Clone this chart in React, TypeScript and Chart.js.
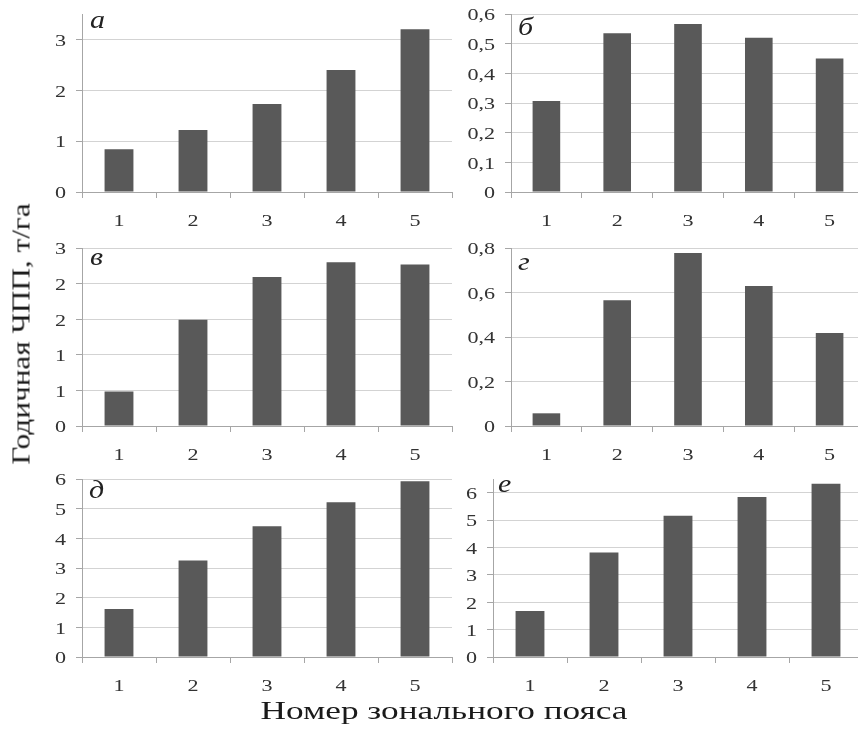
import React, { useEffect, useRef } from "react";
import { Chart, registerables } from "chart.js";

Chart.register(...registerables);
Chart.defaults.font.family = '"Liberation Serif", "Times New Roman", serif';

// ---- data ----
const categories = ["1", "2", "3", "4", "5"];
const valuesA = [0.84, 1.22, 1.73, 2.4, 3.2];
const valuesB = [0.307, 0.535, 0.566, 0.52, 0.45];
const valuesV = [0.58, 1.79, 2.51, 2.76, 2.72];
const valuesG = [0.057, 0.565, 0.777, 0.629, 0.418];
const valuesD = [1.62, 3.25, 4.41, 5.22, 5.92];
const valuesE = [1.68, 3.82, 5.16, 5.84, 6.33];
const panelLetters = ["а", "б", "в", "г", "д", "е"];
const yMaxes = [3.5, 0.6, 3, 0.8, 6, 6.5];
const ySteps = [1, 0.1, 0.6, 0.2, 1, 1];
const yDecimals = [0, 1, 0, 1, 0, 0];
const yTitle = "Годичная ЧПП, т/га";
const xTitle = "Номер зонального пояса";

const allValues = [valuesA, valuesB, valuesV, valuesG, valuesD, valuesE];

// ---- layout (plot-area boxes in page pixels) ----
const Y_W = 70;
const PAD_T = 14;
const X_H = 46;
const boxes = [
  { left: 81.7, top: 14, w: 370, h: 177.7, dx: 8, dy: 14 },
  { left: 510.7, top: 14, w: 354, h: 177.7, dx: 7, dy: 21 },
  { left: 81.7, top: 247.7, w: 370, h: 177.3, dx: 8, dy: 17 },
  { left: 510.7, top: 247.7, w: 354, h: 177.3, dx: 7, dy: 22 },
  { left: 81.7, top: 479.3, w: 370, h: 177.4, dx: 7, dy: 19 },
  { left: 493.3, top: 479.3, w: 370, h: 177.4, dx: 5, dy: 13 },
];

const TICK_SIZE = 17;
const TICK_SX = 1.3;
const TICK_COLOR = "#333";
const AXIS_COLOR = "#a6a6a6";
const GRID_COLOR = "#d3d3d3";
const BAR_COLOR = "#595959";
const SERIF = '"Liberation Serif", "Times New Roman", serif';

function fmt(v: number, dec: number) {
  if (Math.abs(v) < 1e-9) return "0";
  return v.toFixed(dec).replace(".", ",");
}

function drawStretched(ctx: CanvasRenderingContext2D, text: string, x: number, y: number, sx: number, align: CanvasTextAlign) {
  ctx.save();
  ctx.translate(x, y);
  ctx.scale(sx, 1);
  ctx.textAlign = align;
  ctx.textBaseline = "alphabetic";
  ctx.fillText(text, 0, 0);
  ctx.restore();
}

const textPlugin = {
  id: "panelText",
  afterDraw(chart: any, _args: any, opts: any) {
    const { ctx, chartArea } = chart;
    const xs = chart.scales.x;
    const ys = chart.scales.y;
    ctx.save();
    ctx.fillStyle = TICK_COLOR;
    ctx.font = `${TICK_SIZE}px ${SERIF}`;
    xs.ticks.forEach((t: any, i: number) => {
      const px = xs.getPixelForTick(i);
      const label = categories[t.value] ?? String(t.label);
      drawStretched(ctx, label, px, chartArea.bottom + 33.5, TICK_SX, "center");
    });
    ys.ticks.forEach((t: any) => {
      const py = ys.getPixelForValue(t.value);
      drawStretched(ctx, fmt(t.value, opts.dec), chartArea.left - 16, py + 6.3, TICK_SX, "right");
    });
    ctx.fillStyle = "#222";
    ctx.font = `italic 25px ${SERIF}`;
    drawStretched(ctx, opts.text, chartArea.left + opts.dx, chartArea.top + opts.dy, 1.2, "left");
    ctx.restore();
  },
};

function Panel({ idx }: { idx: number }) {
  const ref = useRef<HTMLCanvasElement>(null);
  const b = boxes[idx];
  const cw = Math.ceil(Y_W + b.w + 2);
  const ch = Math.ceil(PAD_T + b.h + X_H);

  useEffect(() => {
    if (!ref.current) return;
    const chart = new Chart(ref.current, {
      type: "bar",
      data: {
        labels: categories,
        datasets: [
          {
            data: allValues[idx],
            backgroundColor: BAR_COLOR,
            borderWidth: 0,
            barPercentage: 0.39,
            categoryPercentage: 1,
          },
        ],
      },
      plugins: [textPlugin],
      options: {
        responsive: false,
        maintainAspectRatio: false,
        animation: false,
        events: [],
        layout: { padding: { top: PAD_T, left: 0, right: cw - Y_W - b.w, bottom: 0 } },
        plugins: {
          legend: { display: false },
          tooltip: { enabled: false },
          panelText: { text: panelLetters[idx], dx: b.dx, dy: b.dy, dec: yDecimals[idx] },
        } as any,
        scales: {
          x: {
            type: "category",
            offset: true,
            grid: {
              offset: true,
              drawOnChartArea: false,
              drawTicks: true,
              tickLength: 6,
              color: AXIS_COLOR,
              tickColor: AXIS_COLOR,
            },
            border: { color: AXIS_COLOR, width: 1 },
            ticks: { display: false },
            afterFit: (s: any) => {
              s.height = X_H;
            },
          },
          y: {
            min: 0,
            max: yMaxes[idx],
            bounds: "data",
            grid: { color: GRID_COLOR, drawTicks: true, tickLength: 6, tickColor: AXIS_COLOR },
            border: { color: AXIS_COLOR, width: 1 },
            ticks: {
              display: false,
              stepSize: ySteps[idx],
              includeBounds: false,
            },
            afterFit: (s: any) => {
              s.width = Y_W;
            },
          },
        },
      } as any,
    });
    return () => chart.destroy();
  }, [idx]);

  return (
    <canvas
      ref={ref}
      width={cw}
      height={ch}
      style={{
        position: "absolute",
        left: b.left - Y_W,
        top: b.top - PAD_T,
        width: cw,
        height: ch,
      }}
    />
  );
}

export default function App() {
  return (
    <div
      style={{
        position: "absolute",
        left: 0,
        top: 0,
        width: 858,
        height: 735,
        overflow: "hidden",
        background: "#fff",
        fontFamily: SERIF,
        color: "#1a1a1a",
      }}
    >
      {boxes.map((_, i) => (
        <Panel key={i} idx={i} />
      ))}
      <div
        style={{
          position: "absolute",
          left: 20.6,
          top: 334,
          transform: "translate(-50%, -50%) rotate(-90deg) scaleX(1.25)",
          fontSize: 25,
          lineHeight: "25px",
          whiteSpace: "nowrap",
        }}
      >
        {yTitle}
      </div>
      <div
        style={{
          position: "absolute",
          left: 444,
          top: 698,
          transform: "translateX(-50%) scaleX(1.41)",
          fontSize: 25,
          lineHeight: "25px",
          whiteSpace: "nowrap",
        }}
      >
        {xTitle}
      </div>
    </div>
  );
}
